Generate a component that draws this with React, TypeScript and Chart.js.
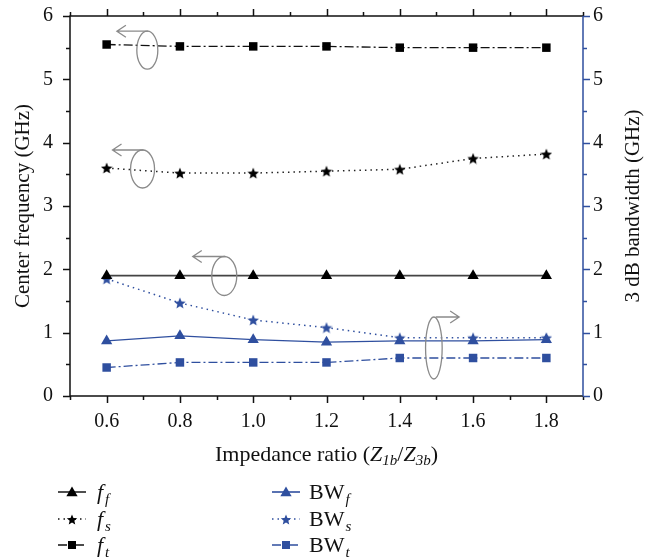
import React, { useEffect, useRef } from "react";
import { Chart, registerables } from "chart.js";

Chart.register(...registerables);

// ---------- data ----------
const ratios = [0.6, 0.8, 1.0, 1.2, 1.4, 1.6, 1.8];
const fF = [1.9, 1.9, 1.9, 1.9, 1.9, 1.9, 1.9];
const fS = [3.6, 3.52, 3.52, 3.55, 3.58, 3.75, 3.82];
const fT = [5.55, 5.52, 5.52, 5.52, 5.5, 5.5, 5.5];
const bwF = [0.87, 0.95, 0.89, 0.85, 0.87, 0.87, 0.89];
const bwS = [1.85, 1.47, 1.2, 1.08, 0.92, 0.92, 0.92];
const bwT = [0.45, 0.53, 0.53, 0.53, 0.6, 0.6, 0.6];
const xTickValues = [0.6, 0.8, 1.0, 1.2, 1.4, 1.6, 1.8];
const xMinorValues = [0.5, 0.7, 0.9, 1.1, 1.3, 1.5, 1.7, 1.9];
const yTickValues = [0, 1, 2, 3, 4, 5, 6];
const yMinorValues = [0.5, 1.5, 2.5, 3.5, 4.5, 5.5];

// annotation ellipses (data coords) with arrow tip x and direction
const notes = [
  { cx: 0.711, cy: 5.46, rx: 10.5, ry: 19, tip: 0.628, axis: "y" },
  { cx: 0.698, cy: 3.584, rx: 12, ry: 19, tip: 0.616, axis: "y" },
  { cx: 0.921, cy: 1.895, rx: 12.5, ry: 19.5, tip: 0.835, axis: "y" },
  { cx: 1.493, cy: 0.758, rx: 8.3, ry: 31, tip: 1.562, axis: "y2" },
];

const BLUE = "#2f4f9f";
const SERIF = "'Liberation Serif', 'DejaVu Serif', serif";

function makeStar(size: number, color: string) {
  const c = document.createElement("canvas");
  c.width = size;
  c.height = size;
  const ctx = c.getContext("2d")!;
  drawStar(ctx, size / 2, size / 2 + 0.6, size / 2, color);
  return c;
}
function drawStar(ctx: CanvasRenderingContext2D, x: number, y: number, r: number, color: string) {
  ctx.save();
  ctx.beginPath();
  for (let i = 0; i < 10; i++) {
    const rr = i % 2 === 0 ? r : r * 0.45;
    const a = -Math.PI / 2 + (i * Math.PI) / 5;
    const px = x + rr * Math.cos(a);
    const py = y + rr * Math.sin(a);
    if (i === 0) ctx.moveTo(px, py);
    else ctx.lineTo(px, py);
  }
  ctx.closePath();
  ctx.fillStyle = color;
  ctx.fill();
  ctx.restore();
}
function drawTri(ctx: CanvasRenderingContext2D, x: number, y: number, r: number, color: string) {
  ctx.save();
  ctx.beginPath();
  ctx.moveTo(x, y - r);
  ctx.lineTo(x + r * 0.866, y + r * 0.5);
  ctx.lineTo(x - r * 0.866, y + r * 0.5);
  ctx.closePath();
  ctx.fillStyle = color;
  ctx.fill();
  ctx.restore();
}
function drawSq(ctx: CanvasRenderingContext2D, x: number, y: number, s: number, color: string) {
  ctx.fillStyle = color;
  ctx.fillRect(x - s / 2, y - s / 2, s, s);
}

const DASHDOT = [9, 3, 2, 3];
const DOT = [1.5, 4];

const framePlugin = {
  id: "frame",
  afterDraw(chart: any) {
    const { ctx, chartArea: a, scales } = chart;
    const xs = scales.x;
    const ys = scales.y;
    ctx.save();
    ctx.lineWidth = 1.5;
    ctx.strokeStyle = "#111";
    ctx.beginPath();
    ctx.moveTo(a.left, a.bottom);
    ctx.lineTo(a.left, a.top);
    ctx.lineTo(a.right, a.top);
    ctx.moveTo(a.left, a.bottom);
    ctx.lineTo(a.right, a.bottom);
    for (const v of xTickValues) {
      const px = Math.round(xs.getPixelForValue(v)) + 0.5;
      ctx.moveTo(px, a.bottom);
      ctx.lineTo(px, a.bottom + 7);
      ctx.moveTo(px, a.top);
      ctx.lineTo(px, a.top - 7);
    }
    for (const v of xMinorValues) {
      const px = Math.round(xs.getPixelForValue(v)) + 0.5;
      ctx.moveTo(px, a.bottom);
      ctx.lineTo(px, a.bottom + 4);
      ctx.moveTo(px, a.top);
      ctx.lineTo(px, a.top - 4);
    }
    for (const v of yTickValues) {
      const py = Math.round(ys.getPixelForValue(v)) + 0.5;
      ctx.moveTo(a.left, py);
      ctx.lineTo(a.left - 7, py);
    }
    for (const v of yMinorValues) {
      const py = Math.round(ys.getPixelForValue(v)) + 0.5;
      ctx.moveTo(a.left, py);
      ctx.lineTo(a.left - 4, py);
    }
    ctx.stroke();
    ctx.strokeStyle = BLUE;
    ctx.beginPath();
    ctx.moveTo(a.right, a.top);
    ctx.lineTo(a.right, a.bottom);
    for (const v of yTickValues) {
      const py = Math.round(ys.getPixelForValue(v)) + 0.5;
      ctx.moveTo(a.right, py);
      ctx.lineTo(a.right + 7, py);
    }
    for (const v of yMinorValues) {
      const py = Math.round(ys.getPixelForValue(v)) + 0.5;
      ctx.moveTo(a.right, py);
      ctx.lineTo(a.right + 4, py);
    }
    ctx.stroke();

    // annotations
    ctx.strokeStyle = "#8a8a8a";
    ctx.lineWidth = 1.3;
    for (const n of notes) {
      const sc = scales[n.axis];
      const cx = xs.getPixelForValue(n.cx);
      const cy = sc.getPixelForValue(n.cy);
      ctx.beginPath();
      ctx.ellipse(cx, cy, n.rx, n.ry, 0, 0, Math.PI * 2);
      ctx.stroke();
      const ty = cy - n.ry;
      const tx = xs.getPixelForValue(n.tip);
      const dir = tx < cx ? -1 : 1;
      ctx.beginPath();
      ctx.moveTo(cx + (dir < 0 ? 1 : 2), ty);
      ctx.lineTo(tx, ty);
      ctx.moveTo(tx - dir * 9, ty - 6);
      ctx.lineTo(tx, ty);
      ctx.lineTo(tx - dir * 9, ty + 6);
      ctx.stroke();
    }

    // axis titles
    ctx.fillStyle = "#111";
    ctx.textBaseline = "alphabetic";
    const parts: [string, string, number, number][] = [
      ["Impedance ratio (", "normal", 22, 0],
      ["Z", "italic", 22, 0],
      ["1b", "italic", 15, 4],
      ["/", "normal", 22, 0],
      ["Z", "italic", 22, 0],
      ["3b", "italic", 15, 4],
      [")", "normal", 22, 0],
    ];
    let tw = 0;
    for (const [t, st, sz] of parts) {
      ctx.font = `${st} ${sz}px ${SERIF}`;
      tw += ctx.measureText(t).width;
    }
    let x0 = (a.left + a.right) / 2 - tw / 2;
    for (const [t, st, sz, dy] of parts) {
      ctx.font = `${st} ${sz}px ${SERIF}`;
      ctx.textAlign = "left";
      ctx.fillText(t, x0, 461 + dy);
      x0 += ctx.measureText(t).width;
    }
    ctx.font = `21px ${SERIF}`;
    ctx.textAlign = "center";
    ctx.save();
    ctx.translate(29, (a.top + a.bottom) / 2);
    ctx.rotate(-Math.PI / 2);
    ctx.fillText("Center frequency (GHz)", 0, 0);
    ctx.restore();
    ctx.save();
    ctx.translate(639, (a.top + a.bottom) / 2);
    ctx.rotate(-Math.PI / 2);
    ctx.fillText("3 dB bandwidth (GHz)", 0, 0);
    ctx.restore();

    // legend
    const rows = [492, 519, 545];
    const items = [
      { col: 0, row: 0, color: "#222", dash: [] as number[], mark: "tri", main: "f", sub: "f", italicMain: true },
      { col: 0, row: 1, color: "#111", dash: DOT, mark: "star", main: "f", sub: "s", italicMain: true },
      { col: 0, row: 2, color: "#111", dash: DASHDOT, mark: "sq", main: "f", sub: "t", italicMain: true },
      { col: 1, row: 0, color: BLUE, dash: [] as number[], mark: "tri", main: "BW", sub: "f", italicMain: false },
      { col: 1, row: 1, color: BLUE, dash: DOT, mark: "star", main: "BW", sub: "s", italicMain: false },
      { col: 1, row: 2, color: BLUE, dash: DASHDOT, mark: "sq", main: "BW", sub: "t", italicMain: false },
    ];
    for (const it of items) {
      const lx0 = it.col === 0 ? 58 : 272;
      const lx1 = it.col === 0 ? 86 : 300;
      const mx = (lx0 + lx1) / 2;
      const y = rows[it.row];
      ctx.save();
      ctx.strokeStyle = it.color;
      ctx.lineWidth = 1.6;
      ctx.setLineDash(it.dash);
      ctx.beginPath();
      ctx.moveTo(lx0, y);
      ctx.lineTo(lx1, y);
      ctx.stroke();
      ctx.restore();
      if (it.mark === "tri") drawTri(ctx, mx, y + 1, 6.5, it.color === BLUE ? BLUE : "#000");
      else if (it.mark === "star") drawStar(ctx, mx, y + 1, 5.5, it.color === BLUE ? BLUE : "#000");
      else drawSq(ctx, mx, y, 8, it.color === BLUE ? BLUE : "#000");
      const tx = it.col === 0 ? 97 : 309;
      ctx.fillStyle = "#111";
      ctx.textAlign = "left";
      ctx.font = `${it.italicMain ? "italic" : "normal"} 22px ${SERIF}`;
      ctx.fillText(it.main, tx, y + 7);
      const w = ctx.measureText(it.main).width;
      ctx.font = `italic 15px ${SERIF}`;
      ctx.fillText(it.sub, tx + w + (it.italicMain ? 2 : 1), y + 12);
    }
    ctx.restore();
  },
};

export default function App() {
  const ref = useRef<HTMLCanvasElement | null>(null);
  useEffect(() => {
    if (!ref.current) return;
    const star = makeStar(12, "#000");
    const starB = makeStar(12, BLUE);
    const pts = (arr: number[]) => arr.map((v, i) => ({ x: ratios[i], y: v }));
    const tickFont = { family: SERIF, size: 20 };
    const chart = new Chart(ref.current, {
      type: "line",
      data: {
        datasets: [
          { label: "f_f", data: pts(fF), yAxisID: "y", borderColor: "#444", borderWidth: 1.8, pointStyle: "triangle", pointRadius: 6.5, pointBackgroundColor: "#000", pointBorderColor: "#000", pointBorderWidth: 0 },
          { label: "f_s", data: pts(fS), yAxisID: "y", borderColor: "#222", borderWidth: 1.5, borderDash: DOT, pointStyle: star, pointRadius: 6 },
          { label: "f_t", data: pts(fT), yAxisID: "y", borderColor: "#111", borderWidth: 1.3, borderDash: DASHDOT, pointStyle: "rect", pointRadius: 6, pointBackgroundColor: "#000", pointBorderColor: "#000", pointBorderWidth: 0 },
          { label: "BW_f", data: pts(bwF), yAxisID: "y2", borderColor: BLUE, borderWidth: 1.3, pointStyle: "triangle", pointRadius: 6.5, pointBackgroundColor: BLUE, pointBorderColor: BLUE, pointBorderWidth: 0 },
          { label: "BW_s", data: pts(bwS), yAxisID: "y2", borderColor: BLUE, borderWidth: 1.5, borderDash: DOT, pointStyle: starB, pointRadius: 6 },
          { label: "BW_t", data: pts(bwT), yAxisID: "y2", borderColor: BLUE, borderWidth: 1.3, borderDash: DASHDOT, pointStyle: "rect", pointRadius: 6, pointBackgroundColor: BLUE, pointBorderColor: BLUE, pointBorderWidth: 0 },
        ],
      },
      options: {
        animation: false,
        responsive: true,
        maintainAspectRatio: false,
        layout: { padding: { top: 16, left: 0, right: 0, bottom: 0 } },
        plugins: { legend: { display: false }, tooltip: { enabled: false } },
        scales: {
          x: {
            type: "linear",
            min: 0.5,
            max: 1.9,
            afterBuildTicks: (s: any) => { s.ticks = xTickValues.map((v) => ({ value: v })); },
            afterFit: (s: any) => { s.height = 163; s.paddingLeft = 0; s.paddingRight = 0; },
            ticks: { callback: (v: any) => Number(v).toFixed(1), font: tickFont, color: "#111", padding: 14, maxRotation: 0, autoSkip: false },
            grid: { display: false, drawTicks: false },
            border: { display: false },
          },
          y: {
            position: "left",
            min: 0,
            max: 6,
            afterBuildTicks: (s: any) => { s.ticks = yTickValues.map((v) => ({ value: v })); },
            afterFit: (s: any) => { s.width = 70; s.paddingTop = 0; s.paddingBottom = 0; },
            ticks: { font: tickFont, color: "#111", padding: 17 },
            grid: { display: false, drawTicks: false },
            border: { display: false },
          },
          y2: {
            position: "right",
            min: 0,
            max: 6,
            afterBuildTicks: (s: any) => { s.ticks = yTickValues.map((v) => ({ value: v })); },
            afterFit: (s: any) => { s.width = 70; s.paddingTop = 0; s.paddingBottom = 0; },
            ticks: { font: tickFont, color: "#111", padding: 10 },
            grid: { display: false, drawTicks: false },
            border: { display: false },
          },
        },
      },
      plugins: [framePlugin],
    } as any);
    return () => chart.destroy();
  }, []);
  return (
    <div style={{ position: "fixed", left: 0, top: 0, width: 653, height: 559, background: "#fff" }}>
      <canvas ref={ref} />
    </div>
  );
}
